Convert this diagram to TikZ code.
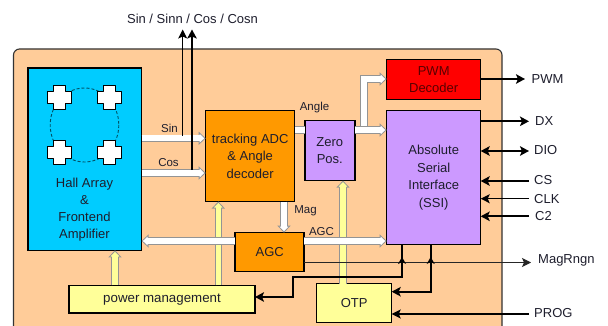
\documentclass[tikz,border=0pt]{standalone}
\usepackage{fontspec}
\setmainfont{Liberation Sans}
\usetikzlibrary{arrows.meta}
\definecolor{chip}{RGB}{255,204,153}
\definecolor{hall}{RGB}{0,204,255}
\definecolor{org}{RGB}{255,153,0}
\definecolor{vio}{RGB}{204,153,255}
\definecolor{yel}{RGB}{255,255,153}
\definecolor{txt}{RGB}{30,30,45}
\tikzset{x=1pt,y=-1pt,
 blk/.style={draw=black,line width=1.5pt,inner sep=0pt,outer sep=0pt,anchor=north west,align=center,text=txt,font=\fontsize{13}{17.5}\selectfont},
 lab/.style={inner sep=0pt,text=txt,font=\fontsize{11.5}{13}\selectfont},
 pin/.style={inner sep=0pt,text=txt,font=\fontsize{13}{15}\selectfont,anchor=west},
 sig/.style={draw=black,line width=2.2pt,-{Stealth[length=9pt,width=9.5pt,inset=2pt]}},
 sigb/.style={draw=black,line width=2.2pt,{Stealth[length=9pt,width=9.5pt,inset=2pt]}-{Stealth[length=9pt,width=9.5pt,inset=2pt]}},
 sigm/.style={draw=black,line width=1.2pt,-{Stealth[length=9pt,width=9pt,inset=2pt]}},
 bus/.style={draw=black!42,line width=7.4pt,
   -{Triangle[length=7pt,width=13pt,fill=#1,line width=.8pt]},
   postaction={draw=#1,line width=5.6pt,-,shorten >=5.5pt}},
}
\begin{document}
\begin{tikzpicture}
\useasboundingbox (0,0) rectangle (608,326);
\clip (0,0) rectangle (608,326);
\fill[white] (0,0) rectangle (608,326);
\draw[fill=chip,draw=black!80,line width=1.1pt,rounded corners=6pt] (13.5,49) rectangle (502,345);
\node[blk,fill=hall,minimum width=113.5pt,minimum height=182.5pt] (hall) at (28,67.8) {};
\node[blk,fill=org,minimum width=89pt,minimum height=91pt] (adc) at (205.7,110.5) {tracking ADC\\\& Angle\\decoder};
\node[blk,fill=org,minimum width=69pt,minimum height=39pt] (agc) at (235.2,232.7) {AGC};
\node[blk,fill=vio,minimum width=50pt,minimum height=60pt] (zero) at (304.8,120.6) {Zero\\Pos.};
\node[blk,fill=red,minimum width=94pt,minimum height=40pt,text=red!35!black] (pwm) at (386.7,59.7) {PWM\\Decoder};
\node[blk,fill=vio,minimum width=94pt,minimum height=134pt] (ssi) at (386.7,110.7) {Absolute\\Serial\\Interface\\(SSI)};
\node[blk,fill=yel,minimum width=186pt,minimum height=27.5pt,font=\fontsize{13.3}{15}\selectfont] (pm) at (69,285.4) {power management};
\node[blk,fill=yel,minimum width=75pt,minimum height=39pt] (otp) at (316.7,283.7) {OTP};
\draw[densely dashed,draw=black!60!hall,line width=0.9pt] (84.5,125) ellipse[x radius=34.3,y radius=37];
\foreach \cx/\cy in {59.3/97.3,109.3/97.3,59.3/152.3,109.3/152.3}{
 \begin{scope}[xshift=\cx pt,yshift=-\cy pt]
 \fill[white,draw=black,line width=1.5pt,line join=round]
 (-6,-12)--(6,-12)--(6,-6)--(12,-6)--(12,6)--(6,6)--(6,12)--(-6,12)--(-6,6)--(-12,6)--(-12,-6)--(-6,-6)--cycle;
 \end{scope}}
\node[inner sep=0pt,align=center,text=txt,font=\fontsize{13}{17}\selectfont] (halltxt) at (84.5,209.5) {Hall Array\\\&\\Frontend\\Amplifier};
% Sin Cos buses
\draw[bus=white] (hall.east|-0,138.3)--(adc.west|-0,138.3);
\draw[bus=white] (hall.east|-0,173)--(adc.west|-0,173);
\node[lab] (lsin) at (169.5,128) {Sin};
\node[lab] (lcos) at (168.5,163) {Cos};
% outward
\coordinate (outa) at (182.7,29.5); \coordinate (outb) at (192,29.5);
\coordinate (outaS) at (182.7,136); \coordinate (outbS) at (192,170);
\draw[draw=black,line width=1.1pt,-{Stealth[length=9pt,width=9pt,inset=2pt]}] (outaS)--(outa);
\draw[sig] (outbS)--(outb);
\node[inner sep=0pt,text=txt,font=\fontsize{13}{15}\selectfont] (ltop) at (192.5,18.5) {Sin / Sinn / Cos / Cosn};
% yellow buses
\draw[bus=yel] (pm.north-|115,0)--(hall.south-|115,0);
\draw[bus=yel] (pm.north-|218.3,0)--(adc.south-|218.3,0);
\draw[bus=yel] (otp.north-|343,0)--(zero.south-|343,0);
% Angle
\draw[draw=black!42,line width=7.4pt] (adc.east|-0,130)--(zero.west|-0,130);
\draw[draw=white,line width=5.6pt] (adc.east|-0,130)--(zero.west|-0,130);
\node[lab] (lang) at (314.5,108) {Angle};
\draw[bus=white] (364,130)--(364,79)--(pwm.west|-0,79);
\draw[bus=white] (zero.east|-0,130)--(ssi.west|-0,130);
% Mag
\draw[bus=white] (adc.south-|284,0)--(agc.north-|284,0);
\node[lab] (lmag) at (305.5,211) {Mag};
% AGC buses
\draw[bus=white] (agc.west|-0,241)--(hall.east|-0,241);
\draw[bus=white] (agc.east|-0,241)--(ssi.west|-0,241);
\node[lab] (lagc) at (321.5,232) {AGC};
% black
\draw[draw=black!85,line width=1pt,-{Stealth[length=9pt,width=9pt,inset=2pt]}] (agc.east|-0,262.5)--(531,262.5);
\draw[sig] (ssi.south-|402,0)--(402,276.7)--(293,276.7)--(293,297)--(pm.east|-0,297);
\draw[sig] (ssi.south-|430.7,0)--(430.7,291.7)--(otp.east|-0,291.7);
\fill (398,264)--(402,257)--(406,264)--(402,262)--cycle;
\fill (426.7,264)--(430.7,257)--(434.7,264)--(430.7,262)--cycle;
\node[pin] (lmr) at (538,260) {MagRngn};
% pins
\draw[sig] (pwm.east|-0,79)--(525,79); \node[pin] (lpwm) at (531.5,79) {PWM};
\draw[sig] (ssi.east|-0,121.3)--(529,121.3); \node[pin] (ldx) at (535,120.7) {DX};
\draw[sigb] (ssi.east|-0,151)--(529,151); \node[pin] (ldio) at (534,150) {DIO};
\node[pin] (lcs) at (534,180) {CS}; \draw[sig] (529,181)--(ssi.east|-0,181);
\node[pin] (lclk) at (534,199) {CLK}; \draw[sigm] (529,198.7)--(ssi.east|-0,198.7);
\node[pin] (lc2) at (535,216) {C2}; \draw[sig] (529,216.3)--(ssi.east|-0,216.3);
\node[pin] (lprog) at (534,313) {PROG}; \draw[sigm] (529,314)--(otp.east|-0,314);
\end{tikzpicture}
\end{document}
